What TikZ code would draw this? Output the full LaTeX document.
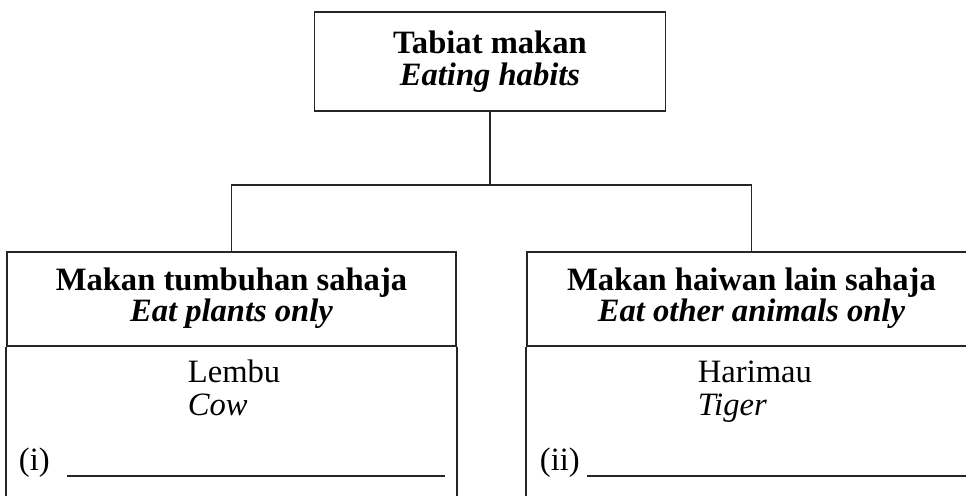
\documentclass[tikz,border=0pt]{standalone}
\usepackage{fontspec}
\setmainfont{Liberation Serif}
\usetikzlibrary{positioning}

\tikzset{
  frame/.style={draw=black!85, line width=0.9pt, inner sep=0pt},
  txt/.style={anchor=base, inner sep=0pt, font=\fontsize{16.3}{19}\selectfont},
  txtl/.style={txt, anchor=base west},
}

\begin{document}
\begin{tikzpicture}[x=0.5pt, y=-0.5pt, line width=0.9pt]
    \useasboundingbox (0,0) rectangle (966,495);

    % top box
    \node[frame, minimum width=175.5pt, minimum height=49.5pt] (habit) at (490,61.5) {};
    \node[txt] (habitbm) at (490,53) {\textbf{Tabiat makan}};
    \node[txt] (habiten) at (490,85) {\textbf{\textit{Eating habits}}};

    % left box
    \node[frame, minimum width=224.5pt, minimum height=47pt] (plant) at (231.5,299) {};
    \draw[black!85] (plant.south west) -- ++(0,170);
    \draw[black!85] (plant.south east) -- ++(0,170);
    \node[txt] (plantbm) at (231.5,290) {\textbf{Makan tumbuhan sahaja}};
    \node[txt] (planten) at (231.5,321) {\textbf{\textit{Eat plants only}}};
    \node[txtl] (cowbm) at (187,382) {Lembu};
    \node[txtl] (cowen) at (187,415) {\textit{Cow}};
    \node[txtl] (numi) at (18,470) {(i)};
    \draw[black!85] (67,476) -- (445,476);

    % right box
    \node[frame, minimum width=224.5pt, minimum height=47pt] (meat) at (751.5,299) {};
    \draw[black!85] (meat.south west) -- ++(0,170);
    \draw[black!85] (meat.south east) -- ++(0,170);
    \node[txt] (meatbm) at (751.5,290) {\textbf{Makan haiwan lain sahaja}};
    \node[txt] (meaten) at (751.5,321) {\textbf{\textit{Eat other animals only}}};
    \node[txtl] (tigerbm) at (697,382) {Harimau};
    \node[txtl] (tigeren) at (697,415) {\textit{Tiger}};
    \node[txtl] (numii) at (539,470) {(ii)};
    \draw[black!85] (587,476) -- (966,476);

    % connectors
    \coordinate (fork) at (490,185);
    \draw[black!85] (habit.south) -- (fork);
    \draw[black!85] (fork) -| (plant.north);
    \draw[black!85] (fork) -| (meat.north);
\end{tikzpicture}
\end{document}
